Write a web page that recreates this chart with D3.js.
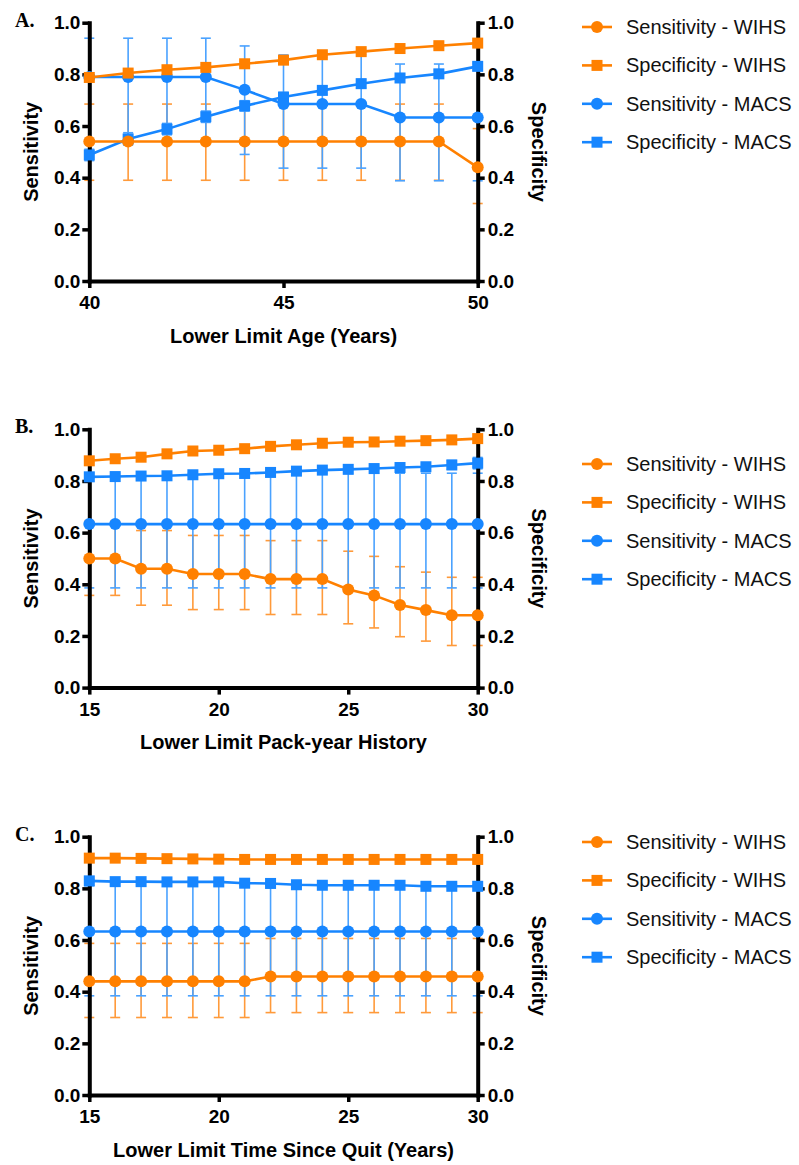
<!DOCTYPE html>
<html>
<head>
<meta charset="utf-8">
<script src="https://cdn.jsdelivr.net/npm/d3@7"></script>
<style>
  body { margin: 0; background: #fff; }
  svg text { font-family: "Liberation Sans", Arial, Helvetica, sans-serif; }
</style>
</head>
<body>
<div id="chart"></div>
<script>

// ---- Panel A: lower limit age ----
const ageX = [40, 41, 42, 43, 44, 45, 46, 47, 48, 49, 50];
const sensWihsA = [0.54, 0.54, 0.54, 0.54, 0.54, 0.54, 0.54, 0.54, 0.54, 0.54, 0.44];
const sensWihsALo = [0.39, 0.39, 0.39, 0.39, 0.39, 0.39, 0.39, 0.39, 0.39, 0.39, 0.30];
const sensWihsAHi = [0.685, 0.685, 0.685, 0.685, 0.685, 0.685, 0.685, 0.685, 0.685, 0.685, 0.59];
const specWihsA = [0.788, 0.805, 0.818, 0.827, 0.841, 0.855, 0.876, 0.888, 0.900, 0.911, 0.921];
const specWihsAErr = [0.01, 0.01, 0.01, 0.01, 0.01, 0.01, 0.01, 0.01, 0.01, 0.01, 0.01];
const sensMacsA = [0.79, 0.79, 0.79, 0.79, 0.74, 0.685, 0.685, 0.685, 0.633, 0.633, 0.633];
const sensMacsALo = [0.54, 0.54, 0.54, 0.54, 0.49, 0.437, 0.437, 0.437, 0.388, 0.388, 0.388];
const sensMacsAHi = [0.94, 0.94, 0.94, 0.94, 0.91, 0.875, 0.875, 0.875, 0.84, 0.84, 0.84];
const specMacsA = [0.488, 0.55, 0.588, 0.636, 0.678, 0.712, 0.738, 0.764, 0.786, 0.802, 0.831];
const specMacsAErr = [0.022, 0.024, 0.022, 0.022, 0.02, 0.018, 0.016, 0.016, 0.015, 0.015, 0.014];

// ---- Panel B: lower limit pack-year history ----
const packX = [15, 16, 17, 18, 19, 20, 21, 22, 23, 24, 25, 26, 27, 28, 29, 30];
const sensWihsB = [0.50, 0.50, 0.46, 0.46, 0.44, 0.44, 0.44, 0.42, 0.42, 0.42, 0.38, 0.357, 0.32, 0.30, 0.28, 0.28];
const sensWihsBLo = [0.357, 0.357, 0.319, 0.319, 0.302, 0.302, 0.302, 0.283, 0.283, 0.283, 0.247, 0.231, 0.197, 0.18, 0.163, 0.163];
const sensWihsBHi = [0.644, 0.644, 0.608, 0.608, 0.589, 0.589, 0.589, 0.569, 0.569, 0.569, 0.528, 0.508, 0.468, 0.447, 0.427, 0.427];
const specWihsB = [0.878, 0.886, 0.892, 0.905, 0.916, 0.919, 0.925, 0.934, 0.94, 0.946, 0.95, 0.951, 0.954, 0.956, 0.959, 0.964];
const specWihsBErr = [0.006, 0.006, 0.006, 0.006, 0.006, 0.006, 0.006, 0.006, 0.006, 0.006, 0.006, 0.006, 0.006, 0.006, 0.006, 0.006];
const specMacsB = [0.816, 0.817, 0.819, 0.82, 0.824, 0.828, 0.829, 0.833, 0.838, 0.842, 0.845, 0.848, 0.852, 0.855, 0.862, 0.869];
const specMacsBErr = [0.006, 0.006, 0.006, 0.006, 0.006, 0.006, 0.006, 0.006, 0.006, 0.006, 0.006, 0.006, 0.008, 0.01, 0.017, 0.022];
const sensMacsB = [0.633, 0.633, 0.633, 0.633, 0.633, 0.633, 0.633, 0.633, 0.633, 0.633, 0.633, 0.633, 0.633, 0.633, 0.633, 0.633];
const sensMacsBLo = [0.386, 0.386, 0.386, 0.386, 0.386, 0.386, 0.386, 0.386, 0.386, 0.386, 0.386, 0.386, 0.386, 0.386, 0.386, 0.386];
const sensMacsBHi = [0.83, 0.83, 0.83, 0.83, 0.83, 0.83, 0.83, 0.83, 0.83, 0.83, 0.83, 0.83, 0.83, 0.83, 0.83, 0.83];

// ---- Panel C: lower limit time since quit ----
const quitX = [15, 16, 17, 18, 19, 20, 21, 22, 23, 24, 25, 26, 27, 28, 29, 30];
const sensWihsC = [0.44, 0.44, 0.44, 0.44, 0.44, 0.44, 0.44, 0.459, 0.459, 0.459, 0.459, 0.459, 0.459, 0.459, 0.459, 0.459];
const sensWihsCLo = [0.30, 0.30, 0.30, 0.30, 0.30, 0.30, 0.30, 0.319, 0.319, 0.319, 0.319, 0.319, 0.319, 0.319, 0.319, 0.319];
const sensWihsCHi = [0.587, 0.587, 0.587, 0.587, 0.587, 0.587, 0.587, 0.606, 0.606, 0.606, 0.606, 0.606, 0.606, 0.606, 0.606, 0.606];
const specWihsC = [0.917, 0.917, 0.916, 0.915, 0.914, 0.913, 0.912, 0.912, 0.912, 0.912, 0.912, 0.912, 0.912, 0.912, 0.912, 0.912];
const specWihsCErr = [0.006, 0.006, 0.006, 0.006, 0.006, 0.006, 0.006, 0.006, 0.006, 0.006, 0.006, 0.006, 0.006, 0.006, 0.006, 0.006];
const specMacsC = [0.829, 0.826, 0.826, 0.825, 0.825, 0.825, 0.82, 0.819, 0.814, 0.812, 0.812, 0.812, 0.812, 0.808, 0.808, 0.808];
const specMacsCErr = [0.006, 0.006, 0.006, 0.006, 0.006, 0.006, 0.006, 0.006, 0.006, 0.006, 0.006, 0.006, 0.006, 0.006, 0.006, 0.006];
const sensMacsC = [0.633, 0.633, 0.633, 0.633, 0.633, 0.633, 0.633, 0.633, 0.633, 0.633, 0.633, 0.633, 0.633, 0.633, 0.633, 0.633];
const sensMacsCLo = [0.384, 0.384, 0.384, 0.384, 0.384, 0.384, 0.384, 0.384, 0.384, 0.384, 0.384, 0.384, 0.384, 0.384, 0.384, 0.384];
const sensMacsCHi = [0.81, 0.81, 0.81, 0.81, 0.81, 0.81, 0.81, 0.81, 0.81, 0.81, 0.81, 0.81, 0.81, 0.81, 0.81, 0.81];

const seriesNames = ['Sensitivity - WIHS', 'Specificity - WIHS', 'Sensitivity - MACS', 'Specificity - MACS'];
const yTicks = [0, 0.2, 0.4, 0.6, 0.8, 1.0];

const ORANGE = '#ff8000';
const BLUE = '#1786ff';
const ORANGE_ERR = '#ff9a3a';
const BLUE_ERR = '#4aa2ff';

// Small helpers to build a series with error bounds
function series(name, values, lo, hi, color, errColor, shape) {
  return { name, values, lo, hi, color, errColor, shape };
}
function plusMinus(values, err, sign) {
  return values.map((v, i) => v + sign * err[i]);
}
function symSeries(name, values, err, color, errColor, shape) {
  return series(name, values, plusMinus(values, err, -1), plusMinus(values, err, 1), color, errColor, shape);
}

const panels = [
  {
    label: 'A.', xs: ageX, domain: [40, 50], xTicks: [40, 45, 50],
    title: 'Lower Limit Age (Years)', top: 22.7, legendTop: 27,
    series: [
      series(seriesNames[0], sensWihsA, sensWihsALo, sensWihsAHi, ORANGE, ORANGE_ERR, 'circle'),
      symSeries(seriesNames[1], specWihsA, specWihsAErr, ORANGE, ORANGE_ERR, 'square'),
      series(seriesNames[2], sensMacsA, sensMacsALo, sensMacsAHi, BLUE, BLUE_ERR, 'circle'),
      symSeries(seriesNames[3], specMacsA, specMacsAErr, BLUE, BLUE_ERR, 'square')
    ]
  },
  {
    label: 'B.', xs: packX, domain: [15, 30], xTicks: [15, 20, 25, 30],
    title: 'Lower Limit Pack-year History', top: 429.3, legendTop: 464,
    series: [
      series(seriesNames[0], sensWihsB, sensWihsBLo, sensWihsBHi, ORANGE, ORANGE_ERR, 'circle'),
      symSeries(seriesNames[1], specWihsB, specWihsBErr, ORANGE, ORANGE_ERR, 'square'),
      series(seriesNames[2], sensMacsB, sensMacsBLo, sensMacsBHi, BLUE, BLUE_ERR, 'circle'),
      symSeries(seriesNames[3], specMacsB, specMacsBErr, BLUE, BLUE_ERR, 'square')
    ]
  },
  {
    label: 'C.', xs: quitX, domain: [15, 30], xTicks: [15, 20, 25, 30],
    title: 'Lower Limit Time Since Quit (Years)', top: 836.7, legendTop: 842,
    series: [
      series(seriesNames[0], sensWihsC, sensWihsCLo, sensWihsCHi, ORANGE, ORANGE_ERR, 'circle'),
      symSeries(seriesNames[1], specWihsC, specWihsCErr, ORANGE, ORANGE_ERR, 'square'),
      series(seriesNames[2], sensMacsC, sensMacsCLo, sensMacsCHi, BLUE, BLUE_ERR, 'circle'),
      symSeries(seriesNames[3], specMacsC, specMacsCErr, BLUE, BLUE_ERR, 'square')
    ]
  }
];

const sizes = {
  width: 799, height: 1165,
  plotLeft: 89.3, plotRight: 477.7, plotHeight: 258.3,
  legendLineX1: 582, legendLineX2: 612, legendTextX: 626, legendStep: 38.4,
  radius: 6, square: 11, cap: 5
};

const svg = d3.select('#chart').append('svg')
  .attr('width', sizes.width)
  .attr('height', sizes.height);

function drawMarker(sel, shape, color, cx, cy) {
  if (shape === 'circle') {
    sel.append('circle')
      .attr('cx', cx).attr('cy', cy).attr('r', sizes.radius)
      .attr('fill', color);
  } else {
    sel.append('rect')
      .attr('x', cx - sizes.square / 2).attr('y', cy - sizes.square / 2)
      .attr('width', sizes.square).attr('height', sizes.square)
      .attr('fill', color);
  }
}

function styleAxis(g, fontSize) {
  g.select('.domain').attr('stroke-width', 4).attr('stroke-linecap', 'square');
  g.selectAll('.tick line').attr('stroke-width', 3.5);
  g.selectAll('.tick text')
    .attr('fill', '#000')
    .style('font-size', fontSize + 'px')
    .style('font-weight', 'bold');
}

function drawPanel(p) {
  const g = svg.append('g').attr('transform', `translate(0,${p.top})`);
  const x = d3.scaleLinear().domain(p.domain).range([sizes.plotLeft, sizes.plotRight]);
  const y = d3.scaleLinear().domain([0, 1]).range([sizes.plotHeight, 0]);

  // Error bars (drawn under the lines), orange first then blue
  [0, 1, 2, 3].forEach(k => {
    const s = p.series[k];
    const eg = g.append('g').attr('stroke', s.errColor).attr('stroke-width', 1.6);
    p.xs.forEach((xv, i) => {
      const px = x(xv);
      eg.append('line').attr('x1', px).attr('x2', px).attr('y1', y(s.lo[i])).attr('y2', y(s.hi[i]));
      [s.lo[i], s.hi[i]].forEach(b => {
        eg.append('line')
          .attr('x1', px - sizes.cap).attr('x2', px + sizes.cap)
          .attr('y1', y(b)).attr('y2', y(b));
      });
    });
  });

  // Axes
  const yFmt = d3.format('.1f');
  const left = g.append('g')
    .attr('transform', `translate(${sizes.plotLeft},0)`)
    .call(d3.axisLeft(y).tickValues(yTicks).tickFormat(yFmt).tickSize(7).tickPadding(2).tickSizeOuter(0));
  styleAxis(left, 19);
  const right = g.append('g')
    .attr('transform', `translate(${sizes.plotRight},0)`)
    .call(d3.axisRight(y).tickValues(yTicks).tickFormat(yFmt).tickSize(7).tickPadding(3).tickSizeOuter(0));
  styleAxis(right, 19);
  const bottom = g.append('g')
    .attr('transform', `translate(0,${sizes.plotHeight})`)
    .call(d3.axisBottom(x).tickValues(p.xTicks).tickFormat(d3.format('d')).tickSize(7).tickPadding(8).tickSizeOuter(0));
  styleAxis(bottom, 19);

  // Lines and markers: blue first, orange on top
  [3, 2, 1, 0].forEach(k => {
    const s = p.series[k];
    const line = d3.line().x((d, i) => x(p.xs[i])).y(d => y(d));
    g.append('path')
      .datum(s.values)
      .attr('d', line)
      .attr('fill', 'none')
      .attr('stroke', s.color)
      .attr('stroke-width', 2.6);
    const mg = g.append('g');
    s.values.forEach((v, i) => drawMarker(mg, s.shape, s.color, x(p.xs[i]), y(v)));
  });

  // Axis titles
  const midY = sizes.plotHeight / 2;
  g.append('text')
    .attr('transform', `translate(31,${midY}) rotate(-90)`)
    .attr('text-anchor', 'middle')
    .attr('dominant-baseline', 'central')
    .style('font-size', '20px').style('font-weight', 'bold')
    .text('Sensitivity');
  g.append('text')
    .attr('transform', `translate(539,${midY}) rotate(90)`)
    .attr('text-anchor', 'middle')
    .attr('dominant-baseline', 'central')
    .style('font-size', '20px').style('font-weight', 'bold')
    .text('Specificity');
  g.append('text')
    .attr('x', (sizes.plotLeft + sizes.plotRight) / 2)
    .attr('y', sizes.plotHeight + 61.7)
    .attr('text-anchor', 'middle')
    .style('font-size', '20px').style('font-weight', 'bold')
    .text(p.title);

  // Panel letter
  g.append('text')
    .attr('x', 15).attr('y', 4)
    .style('font-family', '"Liberation Serif", "Times New Roman", serif')
    .style('font-size', '20px').style('font-weight', 'bold')
    .text(p.label);

  // Legend
  const lg = svg.append('g').attr('transform', `translate(0,${p.legendTop})`);
  p.series.forEach((s, k) => {
    const ly = k * sizes.legendStep;
    lg.append('line')
      .attr('x1', sizes.legendLineX1).attr('x2', sizes.legendLineX2)
      .attr('y1', ly).attr('y2', ly)
      .attr('stroke', s.color).attr('stroke-width', 2.6);
    drawMarker(lg, s.shape, s.color, (sizes.legendLineX1 + sizes.legendLineX2) / 2, ly);
    lg.append('text')
      .attr('x', sizes.legendTextX).attr('y', ly)
      .attr('dominant-baseline', 'central')
      .style('font-size', '20px')
      .attr('fill', '#111')
      .text(s.name);
  });
}

panels.forEach(drawPanel);

</script>
</body>
</html>
